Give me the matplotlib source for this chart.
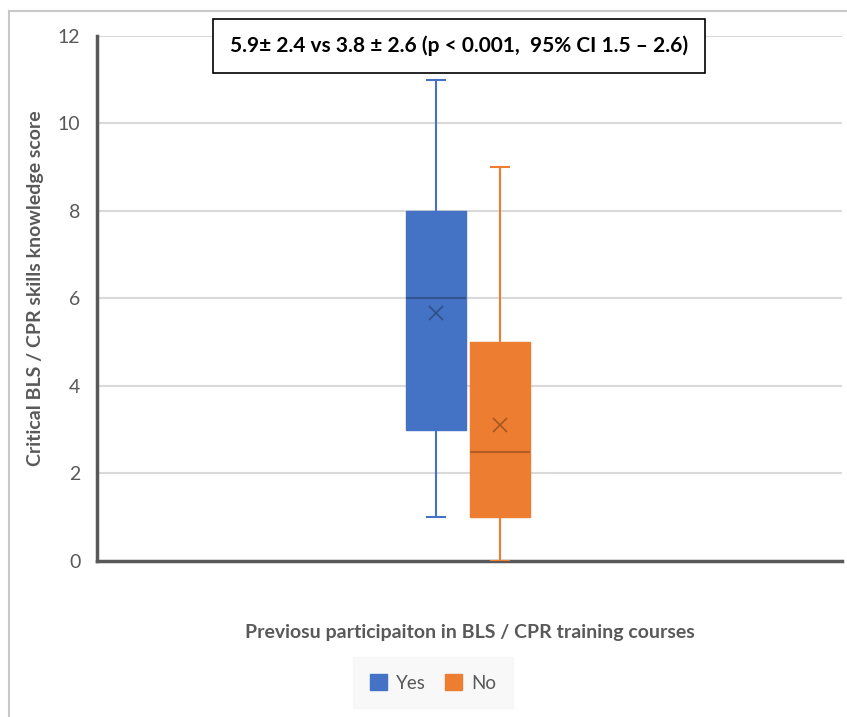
import matplotlib.pyplot as plt
from matplotlib.lines import Line2D
from matplotlib.patches import Patch

# box plot summary values
groups = ["Yes", "No"]
q1 = [3, 1]
medians = [6, 2.5]
q3 = [8, 5]
whisk_lo = [1, 0]
whisk_hi = [11, 9]
means = [5.67, 3.1]
colors = ["#4472C4", "#ED7D31"]

plt.rcParams['font.family'] = ['Lato', 'DejaVu Sans']

fig = plt.figure(figsize=(8.47, 7.17), dpi=100)
ax = fig.add_axes([0.1145, 0.2176, 0.8795, 0.7322])

stats = []
for i, g in enumerate(groups):
    stats.append(dict(label=g, q1=q1[i], med=medians[i], q3=q3[i],
                      whislo=whisk_lo[i], whishi=whisk_hi[i], mean=means[i], fliers=[]))

positions = [1, 2]
for i in range(len(groups)):
    c = colors[i]
    ax.bxp([stats[i]], positions=[positions[i]], widths=0.94, patch_artist=True,
           showmeans=True, capwidths=0.27,
           boxprops=dict(facecolor=c, edgecolor=c, linewidth=1),
           medianprops=dict(color="black", alpha=0.25, linewidth=1.5),
           whiskerprops=dict(color=c, linewidth=1.5),
           capprops=dict(color=c, linewidth=1.5),
           meanprops=dict(marker="x", markeredgecolor="black", alpha=0.3,
                          markersize=10, markeredgewidth=1.2),
           zorder=3)

ax.set_xlim(-4.297, 7.344)
ax.set_ylim(0, 12)
ax.set_yticks(range(0, 13, 2))
ax.set_xticks([])
ax.grid(axis="y", color="#d9d9d9", linewidth=1.5, zorder=0)
ax.tick_params(axis="y", length=0, pad=12, labelsize=14, labelcolor="#595959")
for s in ["top", "right"]:
    ax.spines[s].set_visible(False)
for s in ["left", "bottom"]:
    ax.spines[s].set_color("#595959")
    ax.spines[s].set_linewidth(2.5)

ax.set_ylabel("Critical BLS / CPR skills knowledge score", fontsize=14,
              fontweight="bold", color="#595959")
ax.yaxis.set_label_coords(-0.071, 0.52)

fig.text(0.555, 0.118, "Previosu participaiton in BLS / CPR training courses",
         ha="center", va="center", fontsize=14, fontweight="bold", color="#595959")

fig.text(0.542, 0.936, "5.9\u00b1 2.4 vs 3.8 \u00b1 2.6 (p < 0.001,  95% CI 1.5 \u2013 2.6)",
         ha="center", va="center", fontsize=15, fontweight="bold", color="black",
         bbox=dict(boxstyle="square,pad=0.8", facecolor="white", edgecolor="black",
                   linewidth=1.2))

handles = [Patch(facecolor=c, edgecolor=c) for c in colors]
leg = fig.legend(handles, groups, loc="center", bbox_to_anchor=(0.511, 0.0475),
                 ncol=2, frameon=True, fontsize=13.5, handlelength=0.9, handleheight=0.9,
                 columnspacing=1.0, borderpad=0.9, handletextpad=0.5)
leg.get_frame().set_facecolor("#f7f7f7")
leg.get_frame().set_edgecolor("#f7f7f7")
leg.get_frame().set_boxstyle("square", pad=0)
for t in leg.get_texts():
    t.set_color("#595959")

# screenshot border lines
fig.add_artist(Line2D([0.0106, 1.0], [0.9847, 0.9847], color="#c8c8c8", linewidth=1.5))
fig.add_artist(Line2D([0.0106, 0.0106], [0.0, 0.9847], color="#c8c8c8", linewidth=1.5))

fig.savefig("out.png", dpi=100)
